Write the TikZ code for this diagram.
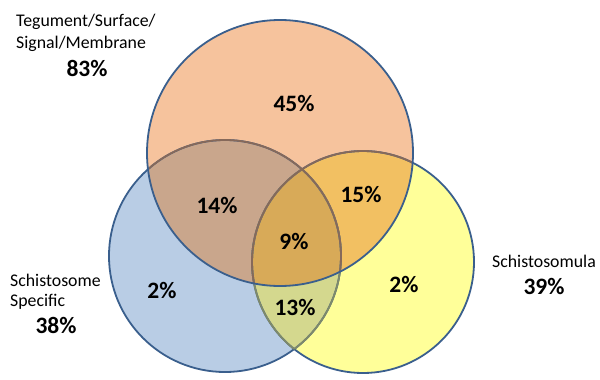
\documentclass[tikz,border=0pt]{standalone}
\usepackage{fontspec}
\setmainfont{Carlito}
\usepackage{tikz}
\usetikzlibrary{positioning}
\definecolor{topfill}{HTML}{F6C39D}
\definecolor{bluefill}{HTML}{B9CDE5}
\definecolor{yelfill}{HTML}{FFFF99}
\definecolor{tbfill}{HTML}{C9A68C}
\definecolor{tyfill}{HTML}{F2C062}
\definecolor{byfill}{HTML}{D4D88E}
\definecolor{tbyfill}{HTML}{D8AA58}
\definecolor{edge}{HTML}{3A5F8D}
\definecolor{edgebrown}{HTML}{86695A}
\definecolor{edgeolive}{HTML}{7F8A6A}

\begin{document}
\begin{tikzpicture}[
    x=1pt, y=-1pt,
    ring/.style={line width=1.8pt},
    lbl/.style={font=\fontsize{17.8}{21}\selectfont, inner sep=0pt},
    pct/.style={font=\bfseries\fontsize{23.5}{27}\selectfont, inner sep=0pt, anchor=base},
  ]
    \useasboundingbox (0,0) rectangle (600,380);
    % centres
    \coordinate (T) at (280,153);
    \coordinate (B) at (225,256);
    \coordinate (Y) at (363,262);
    % fills
    \fill[bluefill] (B) circle[radius=116pt];
    \fill[yelfill]  (Y) circle[radius=111pt];
    \begin{scope}
      \clip (B) circle[radius=116pt];
      \fill[byfill] (Y) circle[radius=111pt];
    \end{scope}
    \fill[topfill] (T) circle[radius=133pt];
    \begin{scope}
      \clip (T) circle[radius=133pt];
      \fill[tbfill] (B) circle[radius=116pt];
      \fill[tyfill] (Y) circle[radius=111pt];
      \clip (B) circle[radius=116pt];
      \fill[tbyfill] (Y) circle[radius=111pt];
    \end{scope}
    % outlines
    \draw[ring, edge] (B) circle[radius=116pt];
    \draw[ring, edge] (Y) circle[radius=111pt];
    \begin{scope}
      \clip (Y) circle[radius=111pt];
      \draw[ring, edgeolive] (B) circle[radius=116pt];
    \end{scope}
    \begin{scope}
      \clip (B) circle[radius=116pt];
      \draw[ring, edgeolive] (Y) circle[radius=111pt];
    \end{scope}
    \begin{scope}
      \clip (T) circle[radius=133pt];
      \draw[ring, edgebrown] (B) circle[radius=116pt];
      \draw[ring, edgebrown] (Y) circle[radius=111pt];
    \end{scope}
    \draw[ring, edge] (T) circle[radius=133pt];
    % set labels
    \node[lbl, anchor=base west] (teg) at (16,27) {Tegument/Surface/};
    \node[lbl, anchor=base west] (sig) at (16,48) {Signal/Membrane};
    \node[pct] (p83) at (87,76) {83\%};
    \node[lbl, anchor=base west] (sch) at (10,286) {Schistosome};
    \node[lbl, anchor=base west] (spe) at (10,306) {Specific};
    \node[pct] (p38) at (56,333) {38\%};
    \node[lbl, anchor=base] (mul) at (544,267) {Schistosomula};
    \node[pct] (p39) at (544,294) {39\%};
    % region values
    \node[pct] (topOnly) at (294,111) {45\%};
    \node[pct] (topBlue) at (217,213) {14\%};
    \node[pct] (topYel)  at (361,202) {15\%};
    \node[pct] (allThree) at (294,249) {9\%};
    \node[pct] (blueOnly) at (162,298) {2\%};
    \node[pct] (blueYel) at (295,315) {13\%};
    \node[pct] (yelOnly) at (404,292) {2\%};
\end{tikzpicture}
\end{document}
